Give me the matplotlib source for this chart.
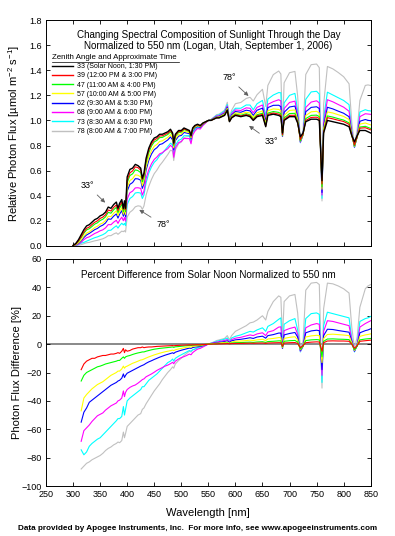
import numpy as np
import matplotlib
matplotlib.use("Agg")
import matplotlib.pyplot as plt
from matplotlib.lines import Line2D

plt.rcParams['font.family'] = ['Liberation Sans', 'DejaVu Sans']
plt.rcParams['mathtext.default'] = 'regular'

# ---------------- data ----------------
wavelength = [
    300, 305, 310, 315, 320, 325, 330, 335, 340, 345,
    350, 355, 360, 365, 370, 375, 380, 383, 386, 390,
    393, 395, 397, 400, 405, 410, 415, 420, 425, 428,
    431, 435, 440, 445, 450, 455, 460, 465, 470, 475,
    480, 484, 486, 489, 495, 500, 505, 510, 515, 518,
    521, 525, 530, 535, 540, 545, 550, 555, 560, 565,
    570, 575, 580, 585, 589, 593, 600, 610, 620, 627,
    633, 640, 650, 656, 660, 670, 680, 684, 687, 690,
    700, 710, 715, 720, 725, 730, 740, 750, 755, 760,
    763, 770, 780, 790, 800, 810, 815, 820, 825, 830,
    840, 845, 850]

# relative photon flux at solar noon (zenith 33 deg), normalized to 550 nm
flux_noon = [
    0.005, 0.02, 0.05, 0.09, 0.13, 0.16, 0.17, 0.19, 0.21, 0.22,
    0.24, 0.25, 0.27, 0.31, 0.30, 0.33, 0.35, 0.30, 0.34, 0.37,
    0.30, 0.36, 0.30, 0.55, 0.61, 0.62, 0.65, 0.64, 0.62, 0.54,
    0.58, 0.70, 0.78, 0.83, 0.86, 0.87, 0.89, 0.89, 0.90, 0.91,
    0.93, 0.90, 0.82, 0.89, 0.92, 0.92, 0.94, 0.93, 0.92, 0.88,
    0.94, 0.96, 0.97, 0.96, 0.98, 0.99, 1.00, 1.00, 1.01, 1.02,
    1.02, 1.03, 1.04, 1.08, 0.99, 1.02, 1.04, 1.03, 1.04, 1.03,
    1.00, 1.03, 1.04, 0.95, 1.04, 1.05, 1.04, 1.03, 0.90, 1.00,
    1.03, 1.03, 0.98, 0.87, 0.90, 0.99, 1.01, 1.01, 1.00, 0.52,
    0.90, 1.00, 0.99, 0.98, 0.97, 0.95, 0.88, 0.83, 0.88, 0.92,
    0.92, 0.91, 0.90]

# percent difference from solar noon for the other zenith angles
pct_39 = [
    -20, -19, -18, -18, -14, -12, -11, -10, -10, -9,
    -8.5, -8, -8, -7.5, -7, -7, -6.5, -6, -6.5, -5,
    -3, -6, -4, -5, -4.5, -3.5, -3, -2.5, -2.5, -2,
    -2.5, -2.2, -2, -2, -1.8, -1.6, -1.5, -1.4, -1.3, -1.2,
    -1.1, -1, -1.2, -1, -0.9, -0.8, -0.7, -0.6, -0.5, -0.6,
    -0.5, -0.5, -0.4, -0.5, -0.3, -0.2, 0, 0, 0.1, 0.1,
    0.2, 0.2, 0.3, 0.4, 0.2, 0.4, 0.5, 0.5, 0.6, 0.7,
    0.6, 0.7, 0.8, 0.5, 0.8, 0.9, 1.0, 1.0, -1.5, 0.8,
    1.0, 1.1, 0.5, -2.5, -1, 1.0, 1.4, 1.6, 1.5, -5,
    1, 2.2, 2.3, 2.2, 2.2, 2.0, 0, -3, -1, 2,
    2.4, 2.6, 2.8]

pct_47 = [
    -28, -27, -26, -26, -22, -20, -19, -18, -17, -16,
    -15.5, -14.8, -14, -13.5, -13, -12.5, -12, -11.5, -11.5, -10,
    -9, -10, -9, -8.5, -8, -7.3, -6.7, -6.2, -5.8, -5.5,
    -5.5, -5, -4.5, -4, -3.6, -3.3, -3, -2.8, -2.6, -2.4,
    -2.2, -2, -2.3, -1.9, -1.7, -1.5, -1.3, -1.1, -0.9, -1.0,
    -0.8, -0.7, -0.6, -0.6, -0.4, -0.2, 0, 0.1, 0.2, 0.3,
    0.4, 0.5, 0.6, 0.8, 0.3, 0.8, 1.0, 1.1, 1.3, 1.4,
    1.2, 1.5, 1.7, 1.2, 1.8, 2.0, 2.3, 2.3, -2, 2.0,
    2.4, 2.6, 1.5, -3.5, -1.5, 2.5, 3.0, 3.2, 3.0, -9,
    2, 3.6, 3.7, 3.5, 3.4, 3.2, 0, -4, -1.5, 3,
    3.6, 3.8, 4.0]

pct_57 = [
    -50, -49, -48, -47, -38, -35.5, -33.5, -31.5, -30, -28.5,
    -27.5, -26.5, -25, -23.5, -22, -21, -20, -19, -19, -17.5,
    -15.5, -17, -16, -15.5, -14.5, -13.5, -12.8, -12, -11.2, -11,
    -10.5, -9.8, -9, -8.3, -7.6, -7, -6.4, -5.9, -5.4, -5,
    -4.6, -4.2, -4.6, -4, -3.4, -3, -2.6, -2.2, -1.9, -2.1,
    -1.6, -1.4, -1.2, -1.1, -0.7, -0.3, 0, 0.2, 0.4, 0.6,
    0.8, 1.0, 1.2, 1.5, 0.6, 1.5, 2.0, 2.2, 2.5, 2.8,
    2.5, 3.0, 3.4, 2.5, 3.6, 4.0, 4.6, 4.6, -2.5, 4.0,
    4.8, 5.2, 3, -4, -1.5, 5, 5.8, 6.2, 6, -13,
    4, 6.8, 7.0, 6.7, 6.4, 6.0, 1, -4.5, -1, 5.5,
    6.5, 6.8, 7.2]

pct_62 = [
    -58, -57, -56, -55, -48, -45, -41, -39.5, -38, -36.5,
    -35, -33.5, -32, -30.5, -29, -28, -27, -26, -25.5, -24,
    -21, -23.5, -22, -20.5, -19.5, -18.5, -17.5, -16.5, -15.5, -15,
    -14.5, -13.5, -12.5, -11.7, -10.8, -10, -9.2, -8.5, -7.8, -7.2,
    -6.6, -6.1, -6.6, -5.7, -4.9, -4.3, -3.8, -3.3, -2.8, -3.0,
    -2.4, -2.1, -1.8, -1.6, -1.0, -0.5, 0, 0.3, 0.6, 0.9,
    1.2, 1.5, 1.8, 2.3, 1.0, 2.3, 3.0, 3.4, 4.0, 4.5,
    4.0, 5.0, 5.6, 4.2, 6.0, 6.7, 7.8, 7.8, -3, 6.5,
    7.5, 8.2, 5, -4.5, -1.5, 8, 9.3, 9.8, 9.5, -18,
    6, 10.5, 10.3, 9.6, 9.0, 8.4, 2, -5, -1, 8,
    9.5, 10, 10.8]

pct_68 = [
    -72, -71, -70, -68.5, -61, -59, -57, -54.5, -52.5, -50.5,
    -49.5, -48.5, -46.5, -45, -43.5, -42.5, -41.5, -40, -39.5, -38,
    -33, -37, -34, -32, -30.5, -29.5, -28.8, -27.5, -26, -25,
    -24.5, -23, -22, -21, -19.8, -18.5, -17.5, -16.5, -15.5, -14.8,
    -13.8, -12.8, -13.8, -12, -10.5, -9.5, -8.8, -8, -7, -7.5,
    -6, -4.8, -3.5, -3, -2, -1, 0, 0.5, 1.0, 1.4,
    1.8, 2.2, 2.6, 3.2, 1.5, 3.2, 4.2, 4.8, 5.8, 6.5,
    6.0, 7.2, 8.0, 6.0, 8.5, 9.5, 12.0, 12.2, -3, 9.5,
    11, 12, 7, -5, -1.5, 11.5, 13.5, 14.5, 14, -22,
    9, 16.5, 16, 15, 14, 13, 3, -5, -0.5, 12,
    14.5, 15.5, 16.5]

pct_73 = [
    -78, -77, -76, -74.5, -78, -76, -72, -70, -68.5, -67,
    -66, -64, -62, -60, -58, -56, -54, -52.5, -52.5, -51,
    -44, -50, -46, -40, -38, -36.5, -35, -33.5, -32, -30,
    -30, -28, -25.5, -24, -22.5, -21, -19, -17, -15, -13,
    -12, -10.5, -12, -10, -8.5, -7.5, -6.5, -5.5, -4.5, -5,
    -4, -3.5, -2.5, -2, -1.3, -0.6, 0, 0.7, 1.3, 1.9,
    2.5, 3, 3.5, 4.3, 2, 4.3, 5.5, 6.5, 8, 9,
    8.5, 10, 11.5, 9, 12.5, 14.5, 17.5, 18.5, -3, 14,
    16.5, 18, 10, -5.5, -1.5, 18, 21.5, 22, 21, -27,
    13, 22.5, 21.5, 20.5, 19.5, 18.5, 4, -5.5, 0, 16,
    18, 18.5, 19.5]

pct_78 = [
    -90, -89, -88.5, -88, -86, -84, -83, -81.5, -80.5, -79.5,
    -78.5, -77, -75, -73.5, -72.5, -71, -70, -69, -69.5, -68,
    -62, -66, -63, -58, -56, -54, -52, -50, -49, -46,
    -45, -42, -39, -36, -33, -30.5, -28, -25, -22.5, -20,
    -18, -16, -17, -14, -11.5, -10, -8, -6.5, -5, -5.5,
    -4, -3.5, -2.5, -2, -1.5, -0.7, 0, 0.8, 1.5, 2.5,
    3, 3.5, 4, 6, 3, 6, 9, 11, 13, 15,
    15.5, 17, 20, 17, 23, 30, 34, 33, 4, 30,
    34, 35, 22, -3, 2, 38, 43, 43.5, 42, -31,
    25, 43, 42.5, 41, 39, 36, 12, -3, 5, 26,
    39, 41, 42]

zenith_labels = [
    "33 (Solar Noon, 1:30 PM)",
    "39 (12:00 PM & 3:00 PM)",
    "47 (11:00 AM & 4:00 PM)",
    "57 (10:00 AM & 5:00 PM)",
    "62 (9:30 AM & 5:30 PM)",
    "68 (9:00 AM & 6:00 PM)",
    "73 (8:30 AM & 6:30 PM)",
    "78 (8:00 AM & 7:00 PM)",
]
colors = ["#000000", "#ff0000", "#00ff00", "#ffff00", "#0000ff",
          "#ff00ff", "#00ffff", "#c0c0c0"]

# ---------------- derived ----------------
wl = np.array(wavelength, dtype=float)
noon = np.array(flux_noon)
pcts = [np.array(p, dtype=float) for p in
        (pct_39, pct_47, pct_57, pct_62, pct_68, pct_73, pct_78)]
fluxes = [noon] + [noon * (1 + p / 100.0) for p in pcts]

# ---------------- figure ----------------
W, H = 395, 536
fig = plt.figure(figsize=(W / 100, H / 100), dpi=100)
L, R = 46 / W, 370.7 / W
ax1 = fig.add_axes([L, 1 - 246 / H, R - L, (246 - 20) / H])
ax2 = fig.add_axes([L, 1 - 486 / H, R - L, (486 - 259) / H])

for ax in (ax1, ax2):
    ax.set_xlim(250, 850)
    ax.set_xticks(np.arange(250, 851, 50))
    ax.tick_params(direction='in', top=True, right=True, length=3,
                   width=0.6, labelsize=6.5, pad=3)
    for s in ax.spines.values():
        s.set_linewidth(0.7)

# top panel
for i in range(len(fluxes) - 1, -1, -1):
    ax1.plot(wl, fluxes[i], color=colors[i], lw=1.0 if i == 0 else 0.8,
             label=zenith_labels[i])
ax1.set_ylim(0, 1.8)
ax1.set_yticks(np.arange(0, 1.81, 0.2))
ax1.yaxis.set_major_formatter(matplotlib.ticker.FormatStrFormatter('%.1f'))
ax1.tick_params(labelbottom=False)
ax1.set_ylabel('Relative Photon Flux [µmol m$^{-2}$ s$^{-1}$]', fontsize=8)
ax1.yaxis.set_label_coords(-0.074, 0.5)
ax1.text(0.5, 0.955, 'Changing Spectral Composition of Sunlight Through the Day\n'
         'Normalized to 550 nm (Logan, Utah, September 1, 2006)',
         transform=ax1.transAxes, ha='center', va='top', fontsize=7.1,
         linespacing=1.05)

handles = [Line2D([], [], color=c, lw=1.0) for c in colors]
ax1.text(0.017, 0.835, 'Zenith Angle and Approximate Time', transform=ax1.transAxes,
         fontsize=5.7, va='center', ha='left')
ax1.plot([0.017, 0.41], [0.815, 0.815], transform=ax1.transAxes, color='k', lw=0.5)
ax1.legend(handles, zenith_labels, loc='upper left', bbox_to_anchor=(0.02, 0.81),
           fontsize=5, frameon=False, handlelength=2.9, handletextpad=0.6,
           labelspacing=0.33, borderaxespad=0, borderpad=0)

arrow = dict(arrowstyle='-|>', color='#606060', lw=0.6, mutation_scale=6)
ax1.annotate('78°', xy=(628, 1.18), xytext=(588, 1.34), fontsize=6.5,
             ha='center', va='center', arrowprops=arrow)
ax1.annotate('33°', xy=(621, 0.97), xytext=(666, 0.83), fontsize=6.5,
             ha='center', va='center', arrowprops=arrow)
ax1.annotate('33°', xy=(363, 0.33), xytext=(327, 0.48), fontsize=6.5,
             ha='center', va='center', arrowprops=arrow)
ax1.annotate('78°', xy=(418, 0.30), xytext=(466, 0.17), fontsize=6.5,
             ha='center', va='center', arrowprops=arrow)

# bottom panel
ax2.axhline(0, color='#808080', lw=1.3, zorder=1)
mask = wl >= 315
for i in range(len(pcts) - 1, -1, -1):
    ax2.plot(wl[mask], pcts[i][mask], color=colors[i + 1], lw=0.8, zorder=2)
ax2.set_ylim(-100, 60)
ax2.set_yticks(np.arange(-100, 61, 20))
ax2.set_ylabel('Photon Flux Difference [%]', fontsize=8)
ax2.yaxis.set_label_coords(-0.074, 0.5)
ax2.set_xlabel('Wavelength [nm]', fontsize=8, labelpad=6)
ax2.text(0.5, 0.95, 'Percent Difference from Solar Noon Normalized to 550 nm',
         transform=ax2.transAxes, ha='center', va='top', fontsize=7.1)

fig.text(0.5, 1 - 528 / H, 'Data provided by Apogee Instruments, Inc.  For more info, '
         'see www.apogeeinstruments.com', ha='center', va='center',
         fontsize=5.9, fontweight='bold')

fig.savefig('out.png', dpi=100, facecolor='white')
